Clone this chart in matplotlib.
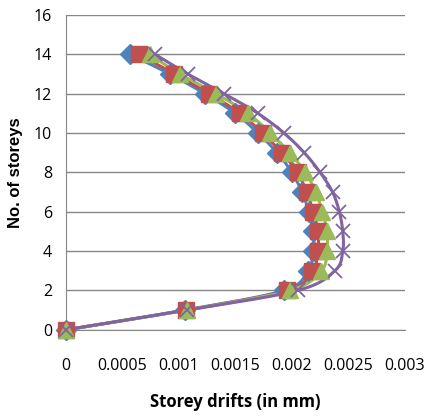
import matplotlib.pyplot as plt
import numpy as np

storeys = [0, 1, 2, 3, 4, 5, 6, 7, 8, 9, 10, 11, 12, 13, 14]
drift_a = [0, 0.00105, 0.00193, 0.00214, 0.00219, 0.00219, 0.00215, 0.00209, 0.00200, 0.00187, 0.00170, 0.00150, 0.00123, 0.00092, 0.00057]
drift_b = [0, 0.00106, 0.00196, 0.00218, 0.00223, 0.00223, 0.00219, 0.00213, 0.00205, 0.00191, 0.00174, 0.00154, 0.00127, 0.00096, 0.00065]
drift_c = [0, 0.00107, 0.00198, 0.00226, 0.00231, 0.00231, 0.00227, 0.00221, 0.00212, 0.00198, 0.00181, 0.00161, 0.00133, 0.00101, 0.00074]
drift_d = [0, 0.00107, 0.00205, 0.00238, 0.00245, 0.00245, 0.00242, 0.00236, 0.00225, 0.00211, 0.00193, 0.00170, 0.00140, 0.00108, 0.00079]


def smooth(x, y, n=20):
    # Catmull-Rom curve through the points, like Excel's smoothed line
    p = np.column_stack([x, y])
    p = np.vstack([p[0], p, p[-1]])
    out = []
    t = np.linspace(0, 1, n, endpoint=False)[:, None]
    for i in range(1, len(p) - 2):
        p0, p1, p2, p3 = p[i - 1], p[i], p[i + 1], p[i + 2]
        out.append(0.5 * ((2 * p1) + (-p0 + p2) * t + (2 * p0 - 5 * p1 + 4 * p2 - p3) * t ** 2
                          + (-p0 + 3 * p1 - 3 * p2 + p3) * t ** 3))
    out.append(p[-2][None, :])
    out = np.vstack(out)
    return out[:, 0], out[:, 1]


fig = plt.figure(figsize=(4.28, 4.18), dpi=100)
ax = fig.add_axes([0.154, 0.211, 0.792, 0.753])

series = [
    (drift_a, '#4F81BD', 'D', 10),
    (drift_b, '#C0504D', 's', 11),
    (drift_c, '#9BBB59', '^', 12),
    (drift_d, '#8064A2', 'x', 10),
]
for vals, col, mk, ms in series:
    sx, sy = smooth(vals, storeys)
    ax.plot(sx, sy, color=col, lw=2.2, zorder=3, clip_on=False)
    if mk == 'x':
        ax.plot(vals, storeys, ls='none', marker=mk, color=col, ms=ms, mew=1.3, zorder=4, clip_on=False)
    else:
        ax.plot(vals, storeys, ls='none', marker=mk, color=col, ms=ms, mec=col, zorder=4, clip_on=False)

ax.set_xlim(0, 0.003)
ax.set_ylim(0, 16)
ax.set_xticks([0, 0.0005, 0.001, 0.0015, 0.002, 0.0025, 0.003])
ax.set_xticklabels(['0', '0.0005', '0.001', '0.0015', '0.002', '0.0025', '0.003'])
ax.set_yticks(range(0, 17, 2))
ax.grid(axis='y', color='#868686', lw=1)
ax.set_axisbelow(True)
for s in ['top', 'right']:
    ax.spines[s].set_visible(False)
ax.spines['left'].set_color('#868686')
ax.spines['bottom'].set_color('#868686')
ax.tick_params(axis='x', length=0, labelsize=11.5, pad=20)
ax.tick_params(axis='y', length=0, labelsize=11.5, pad=10)
for lab in ax.get_xticklabels() + ax.get_yticklabels():
    lab.set_family('Open Sans')
ax.set_xlabel('Storey drifts (in mm)', fontsize=12, fontweight='bold', family='Open Sans', labelpad=14)
ax.set_ylabel('No. of storeys', fontsize=12, fontweight='bold', family='Liberation Sans', labelpad=8)

plt.savefig('out.png', dpi=100)
